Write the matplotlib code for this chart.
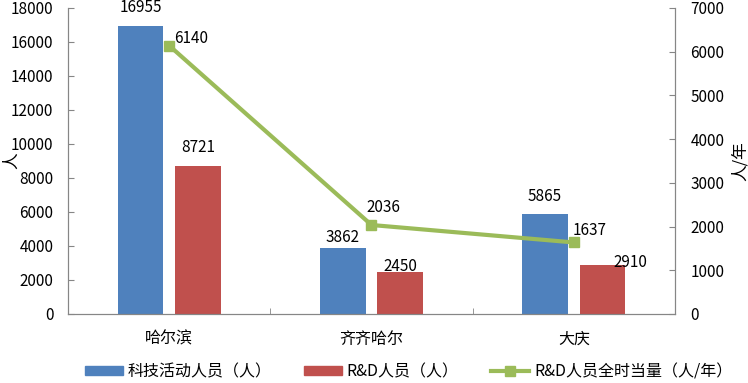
import numpy as np
from matplotlib import pyplot as plt
from matplotlib.lines import Line2D
from matplotlib.patches import Patch

plt.rcParams['font.family'] = ['Noto Sans CJK SC', 'DejaVu Sans']

# data
cities = ['哈尔滨', '齐齐哈尔', '大庆']
staff = [16955, 3862, 5865]          # 科技活动人员（人）
rd_staff = [8721, 2450, 2910]        # R&D人员（人）
rd_fte = [6140, 2036, 1637]          # R&D人员全时当量（人/年）

blue = '#4F81BD'
red = '#C0504D'
green = '#9BBB59'
grey = '#868686'

# label offsets in pixels (dx, dy up), as placed in the original
staff_off = [(0, 18), (0, 11), (0, 18)]
rd_off = [(0, 18), (0, 6), (28, 2.5)]
fte_off = [(22, 7), (12, 17), (16, 12)]
px = 0.72  # pixel -> point at dpi 100

fig = plt.figure(figsize=(7.48, 3.83), dpi=100)
ax = fig.add_axes([68 / 748, 69 / 383, 607 / 748, 306 / 383])
ax2 = ax.twinx()

x = np.arange(len(cities))
w = 0.226
off = 0.142
ax.bar(x - off, staff, w, color=blue, zorder=2)
ax.bar(x + off, rd_staff, w, color=red, zorder=2)
ax2.plot(x, rd_fte, color=green, lw=3, marker='s', ms=7, zorder=3)

fs = 11
for i, v in enumerate(staff):
    ax.annotate(str(v), (x[i] - off, v), xytext=(staff_off[i][0] * px, staff_off[i][1] * px),
                textcoords='offset points', ha='center', va='center', fontsize=fs)
for i, v in enumerate(rd_staff):
    ax.annotate(str(v), (x[i] + off, v), xytext=(rd_off[i][0] * px, rd_off[i][1] * px),
                textcoords='offset points', ha='center', va='center', fontsize=fs)
for i, v in enumerate(rd_fte):
    ax2.annotate(str(v), (x[i], v), xytext=(fte_off[i][0] * px, fte_off[i][1] * px),
                 textcoords='offset points', ha='center', va='center', fontsize=fs)

ax.set_xlim(-0.5, 2.5)
ax.set_ylim(0, 18000)
ax.set_yticks(range(0, 18001, 2000))
ax2.set_ylim(0, 7000)
ax2.set_yticks(range(0, 7001, 1000))

ax.set_xticks(x)
ax.set_xticklabels(cities, fontsize=11.5)
ax.set_xticks([-0.5, 0.5, 1.5, 2.5], minor=True)
ax.tick_params(axis='x', which='major', length=0, pad=12)
ax.tick_params(axis='x', which='minor', direction='in', length=4, color=grey)
ax.tick_params(axis='y', direction='in', length=4, color=grey, labelsize=fs, pad=10.5)
ax2.tick_params(axis='y', direction='in', length=4, color=grey, labelsize=fs, pad=11)

for a in (ax, ax2):
    a.spines['top'].set_visible(False)
    for s in ('left', 'right', 'bottom'):
        a.spines[s].set_color(grey)

ax.set_ylabel('人', fontsize=12)
ax.yaxis.set_label_coords(-0.079, 0.5)
ax2.set_ylabel('人/年', fontsize=12)
ax2.yaxis.set_label_coords(1.094, 0.5)

handles = [
    Patch(color=blue, label='科技活动人员（人）'),
    Patch(color=red, label='R&D人员（人）'),
    Line2D([], [], color=green, lw=3, marker='s', ms=7, label='R&D人员全时当量（人/年）'),
]
fig.legend(handles=handles, loc='center', bbox_to_anchor=(0.546, 0.03), ncol=3,
           frameon=False, fontsize=11.5, handlelength=2.4, handleheight=0.5,
           handletextpad=0.3, columnspacing=2.0, borderpad=0.2)

fig.savefig('out.png', dpi=100)
